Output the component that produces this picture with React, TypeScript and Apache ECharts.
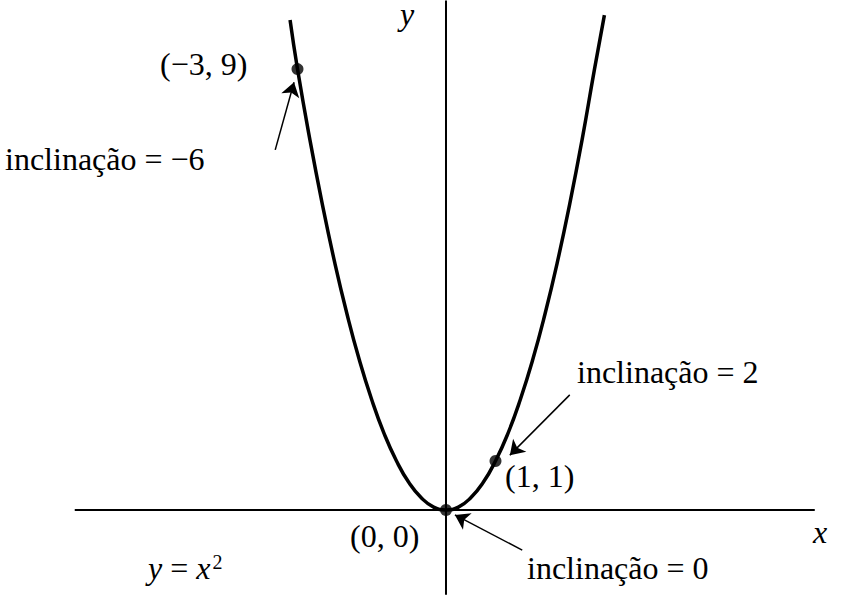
import React, { useEffect, useRef } from "react";
import * as echarts from "echarts";

// parabola points
const curve: [number, number][] = [
  [-3.15, 10.0], [-3, 9], [-2.75, 7.56], [-2.5, 6.25], [-2.25, 5.06], [-2, 4],
  [-1.75, 3.06], [-1.5, 2.25], [-1.25, 1.56], [-1, 1], [-0.75, 0.56], [-0.5, 0.25],
  [-0.25, 0.06], [0, 0], [0.25, 0.06], [0.5, 0.25], [0.75, 0.56], [1, 1],
  [1.25, 1.56], [1.5, 2.25], [1.75, 3.06], [2, 4], [2.25, 5.06], [2.5, 6.25],
  [2.75, 7.56], [3, 9], [3.2, 10.1],
];
const marked: [number, number][] = [[-3, 9], [1, 1], [0, 0]];
const arrows: [number, number][][] = [
  [[-3.45, 7.35], [-3.07, 8.73]],
  [[2.5, 2.35], [1.29, 1.12]],
  [[1.54, -0.82], [0.18, -0.1]],
];

const serif = "Liberation Serif";

const App: React.FC = () => {
  const chartRef = useRef<HTMLDivElement>(null);

  useEffect(() => {
    if (!chartRef.current) return;
    const chart = echarts.init(chartRef.current, undefined, { renderer: "svg" });
    const txt = (x: number, y: number, text: string, style: any = {}) => ({
      type: "text", left: x, top: y,
      style: { text, fontFamily: serif, fontSize: 32, fill: "#000", ...style },
    });
    chart.setOption({
      animation: false,
      backgroundColor: "#fff",
      grid: { left: 0, right: 0, top: 0, bottom: 0 },
      xAxis: { type: "value", min: -9.01, max: 8.0, show: false },
      yAxis: { type: "value", min: -1.837, max: 10.41, show: false },
      series: [
        { type: "line", data: [[-7.5, 0], [7.45, 0]], symbol: "none", lineStyle: { color: "#000", width: 2 } },
        { type: "line", data: [[0, -1.73], [0, 10.4]], symbol: "none", lineStyle: { color: "#000", width: 2 } },
        { type: "line", data: curve, smooth: true, symbol: "none", lineStyle: { color: "#000", width: 3.5 } },
        { type: "scatter", data: marked, symbolSize: 12, itemStyle: { color: "#000" } },
        {
          type: "lines", coordinateSystem: "cartesian2d",
          symbol: ["none", "arrow"], symbolSize: 14,
          lineStyle: { color: "#000", width: 1.5, opacity: 1 },
          data: arrows.map((c) => ({ coords: c })),
        },
      ],
      graphic: [
        txt(160, 48, "(−3, 9)"),
        txt(5, 143, "inclinação = −6"),
        txt(577, 356, "inclinação = 2"),
        txt(505, 460, "(1, 1)"),
        txt(350, 520, "(0, 0)"),
        txt(527, 552, "inclinação = 0"),
        {
          type: "text", left: 148, top: 552,
          style: {
            text: "{i|y} = {i|x}{s|2}", fontFamily: serif, fontSize: 32, fill: "#000",
            rich: {
              i: { fontFamily: serif, fontSize: 32, fontStyle: "italic" },
              s: { fontFamily: serif, fontSize: 20, verticalAlign: "top", padding: [0, 0, 12, 2] },
            },
          },
        },
        txt(813, 516, "x", { fontStyle: "italic" }),
        txt(400, -2, "y", { fontStyle: "italic" }),
      ],
    });
    return () => chart.dispose();
  }, []);

  return <div ref={chartRef} style={{ position: "fixed", left: 0, top: 0, width: 842, height: 600 }} />;
};

export default App;
